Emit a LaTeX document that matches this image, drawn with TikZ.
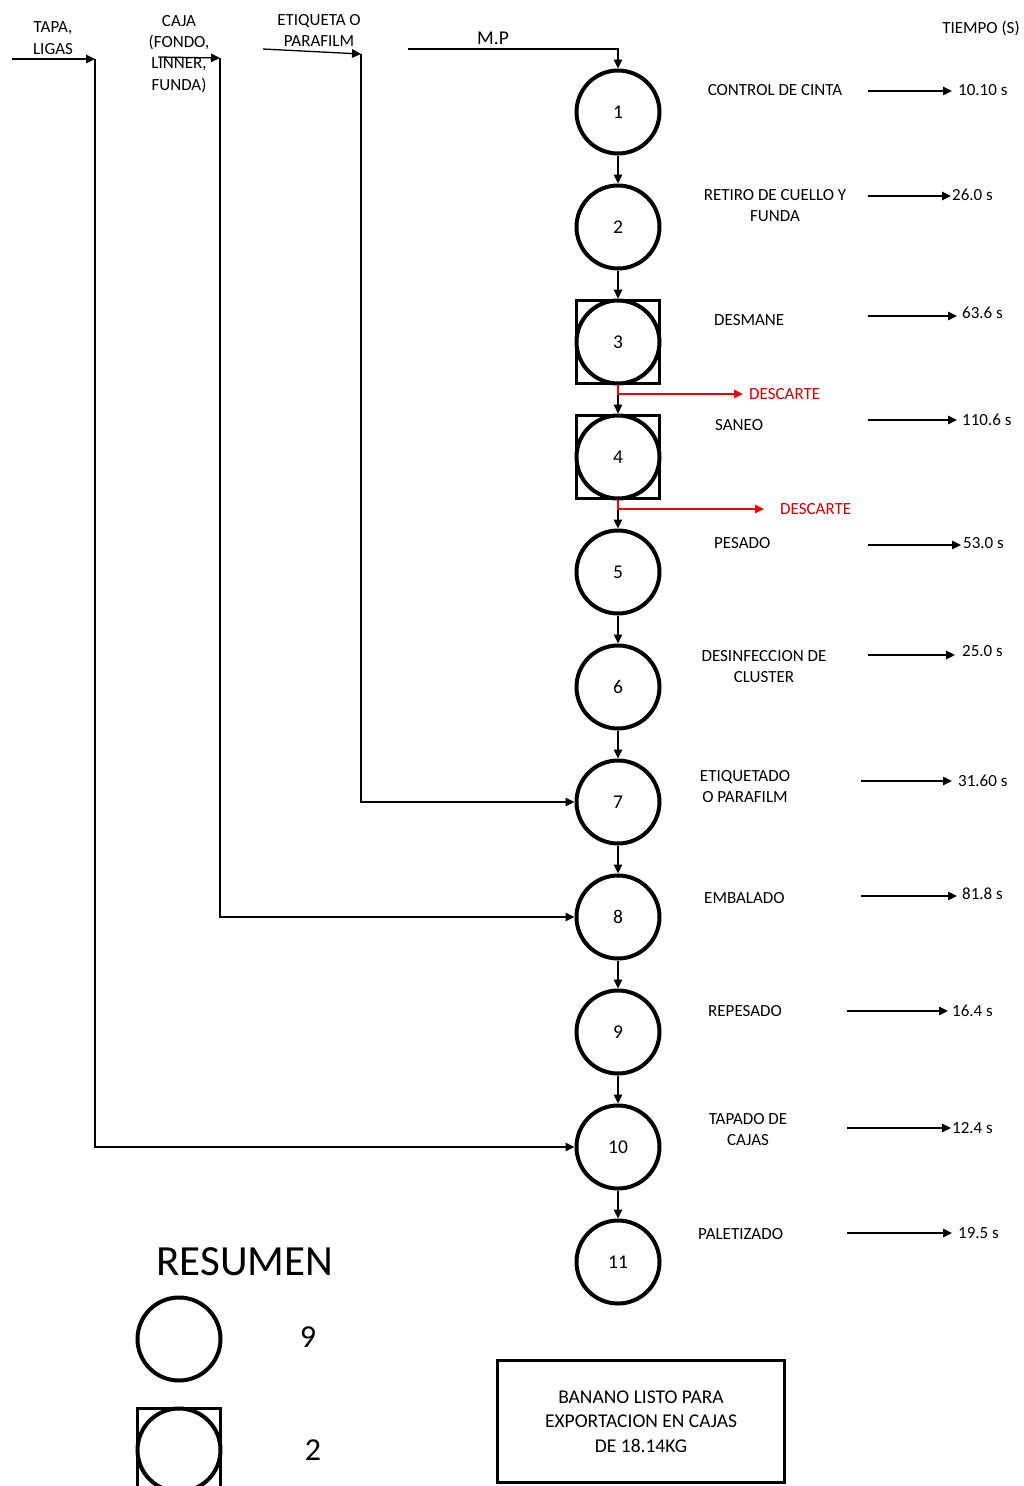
\documentclass[tikz,border=0pt]{standalone}
\usepackage{fontspec}
\setmainfont{Carlito}
\usetikzlibrary{arrows.meta,calc}
\definecolor{desctext}{RGB}{200,0,0}
\definecolor{descline}{RGB}{240,0,0}
\begin{document}
\begin{tikzpicture}[x=1pt,y=-1pt,
  proc/.style={circle,draw,line width=4pt,minimum size=83pt,inner sep=0pt,font=\fontsize{19.5}{23}\selectfont},
  insp/.style={rectangle,draw,line width=3.8pt,minimum size=83pt,inner sep=0pt},
  lbl/.style={inner sep=0pt,align=center,font=\fontsize{17}{21.3}\selectfont},
  tlbl/.style={inner sep=0pt,anchor=west,font=\fontsize{17}{21}\selectfont},
  conn/.style={line width=1.3pt,-{Triangle[length=9pt,width=8.5pt]}},
  discard/.style={draw=descline,line width=1.3pt,-{Triangle[length=9pt,width=8.5pt]}},
  desclbl/.style={inner sep=0pt,anchor=west,text=desctext,font=\fontsize{17}{21}\selectfont},
]
\useasboundingbox (0,0) rectangle (1023,1486);

% process circles
\foreach \i in {1,...,11}{
  \node[proc] (c\i) at (618,{112+115*(\i-1)}) {\i};
}
\node[insp] (s3) at (c3) {};
\node[insp] (s4) at (c4) {};

% vertical flow
\draw[conn] (c1) -- (c2);
\draw[conn] (c2) -- (s3);
\draw[conn] (s3) -- (s4);
\draw[conn] (s4) -- (c5);
\draw[conn] (c5) -- (c6);
\draw[conn] (c6) -- (c7);
\draw[conn] (c7) -- (c8);
\draw[conn] (c8) -- (c9);
\draw[conn] (c9) -- (c10);
\draw[conn] (c10) -- (c11);

% discards
\node[desclbl] (d3) at (749,394) {DESCARTE};
\node[desclbl] (d4) at (780,509) {DESCARTE};
\draw[discard,shorten >=6pt] (s3.south) |- (d3.west);
\draw[discard,shorten >=16pt] (s4.south) |- (d4.west);

% M.P input
\node[inner sep=0pt,font=\fontsize{19.5}{23}\selectfont] (mpl) at (493,38) {M.P};
\coordinate (mp) at (408,49);
\draw[conn] (mp) -| (c1.north);

% other inputs
\node[lbl] (tapal) at (53,38) {TAPA,\\LIGAS};
\coordinate (tapaA) at (12,59);
\coordinate (tapaB) at (95,59);
\draw[conn] (tapaA) -- (tapaB);
\draw[conn] (tapaB) |- (c10.west);

\node[lbl] (cajal) at (179,54) {CAJA\\(FONDO,\\LINNER,\\FUNDA)};
\coordinate (cajaA) at (158,57);
\coordinate (cajaB) at (220,58);
\draw[conn] (cajaA) -- (cajaB);
\draw[conn] (cajaB) |- (c8.west);

\node[lbl] (etiql) at (319,30.5) {ETIQUETA O\\PARAFILM};
\coordinate (etiqA) at (263,49);
\coordinate (etiqB) at (361,54);
\draw[conn] (etiqA) -- (etiqB);
\draw[conn] (etiqB) |- (c7.west);

% time header
\node[lbl] (tiempo) at (981,28) {TIEMPO (S)};

% step names
\node[lbl] (n1) at (775,90) {CONTROL DE CINTA};
\node[lbl] (n2) at (775,205.5) {RETIRO DE CUELLO Y\\FUNDA};
\node[lbl,anchor=west] (n3) at (714,320) {DESMANE};
\node[lbl,anchor=west] (n4) at (715,425) {SANEO};
\node[lbl,anchor=west] (n5) at (714,543) {PESADO};
\node[lbl] (n6) at (764,666.5) {DESINFECCION DE\\CLUSTER};
\node[lbl] (n7) at (745,786.5) {ETIQUETADO\\O PARAFILM};
\node[lbl,anchor=west] (n8) at (704,898) {EMBALADO};
\node[lbl,anchor=west] (n9) at (708,1011) {REPESADO};
\node[lbl] (n10) at (748,1129.5) {TAPADO DE\\CAJAS};
\node[lbl,anchor=west] (n11) at (698,1234) {PALETIZADO};

% times
\node[tlbl] (t1) at (958,90) {10.10 s};
\node[tlbl] (t2) at (952,195) {26.0 s};
\node[tlbl] (t3) at (962,313) {63.6 s};
\node[tlbl] (t4) at (962,420) {110.6 s};
\node[tlbl] (t5) at (963,543) {53.0 s};
\node[tlbl] (t6) at (962,651) {25.0 s};
\node[tlbl] (t7) at (958,781) {31.60 s};
\node[tlbl] (t8) at (962,894) {81.8 s};
\node[tlbl] (t9) at (952,1011) {16.4 s};
\node[tlbl] (t10) at (952,1128) {12.4 s};
\node[tlbl] (t11) at (958,1233) {19.5 s};

\coordinate (a1) at (868,91);
\coordinate (a2) at (868,196);
\coordinate (a3) at (868,316);
\coordinate (a4) at (868,420);
\coordinate (a5) at (868,545);
\coordinate (a6) at (868,655);
\coordinate (a7) at (861,781);
\coordinate (a8) at (861,896);
\coordinate (a9) at (847,1011);
\coordinate (a10) at (847,1128);
\coordinate (a11) at (847,1233);

\draw[conn,shorten >=6pt] (a1) -- (a1 -| t1.west);
\draw[conn,shorten >=1pt] (a2) -- (a2 -| t2.west);
\draw[conn,shorten >=5pt] (a3) -- (a3 -| t3.west);
\draw[conn,shorten >=5pt] (a4) -- (a4 -| t4.west);
\draw[conn,shorten >=2pt] (a5) -- (a5 -| t5.west);
\draw[conn,shorten >=7pt] (a6) -- (a6 -| t6.west);
\draw[conn,shorten >=6pt] (a7) -- (a7 -| t7.west);
\draw[conn,shorten >=5pt] (a8) -- (a8 -| t8.west);
\draw[conn,shorten >=4pt] (a9) -- (a9 -| t9.west);
\draw[conn,shorten >=1pt] (a10) -- (a10 -| t10.west);
\draw[conn,shorten >=6pt] (a11) -- (a11 -| t11.west);

% summary
\node[inner sep=0pt,font=\fontsize{43}{50}\selectfont] (resumen) at (245,1262) {RESUMEN};
\node[proc] (sumc) at (179,1339) {};
\node[inner sep=0pt,font=\fontsize{32}{38}\selectfont] (sum9) at (308,1337) {9};
\node[insp] (sums) at (179,1450) {};
\node[proc] (sumc2) at (sums) {};
\node[inner sep=0pt,font=\fontsize{32}{38}\selectfont] (sum2) at (313,1450) {2};

% final box
\node[draw,line width=3.8pt,minimum width=287pt,minimum height=122pt,inner sep=0pt,align=center,
      font=\fontsize{19.5}{24.5}\selectfont] (final) at (641,1421.5)
      {BANANO LISTO PARA\\EXPORTACION EN CAJAS\\DE 18.14KG};
\end{tikzpicture}
\end{document}
